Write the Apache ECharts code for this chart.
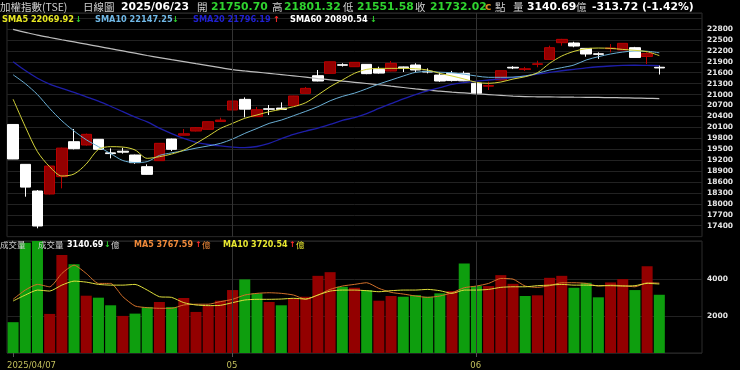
<!DOCTYPE html>
<html><head><meta charset="utf-8">
<script src="https://cdn.jsdelivr.net/npm/echarts@6/dist/echarts.min.js"></script>
<style>html,body{margin:0;padding:0;background:#000;}#c{width:740px;height:370px;}</style>
</head><body><div id="c"></div>
<script>
const dates = ['2025/04/07','2025/04/08','2025/04/09','2025/04/10','2025/04/11','2025/04/14','2025/04/15','2025/04/16','2025/04/17','2025/04/18',
'2025/04/21','2025/04/22','2025/04/23','2025/04/24','2025/04/25','2025/04/28','2025/04/29','2025/04/30',
'2025/05/02','2025/05/05','2025/05/06','2025/05/07','2025/05/08','2025/05/09','2025/05/12','2025/05/13','2025/05/14','2025/05/15','2025/05/16',
'2025/05/19','2025/05/20','2025/05/21','2025/05/22','2025/05/23','2025/05/26','2025/05/27','2025/05/28','2025/05/29',
'2025/06/02','2025/06/03','2025/06/04','2025/06/05','2025/06/06','2025/06/09','2025/06/10','2025/06/11','2025/06/12','2025/06/13',
'2025/06/16','2025/06/17','2025/06/18','2025/06/19','2025/06/20','2025/06/23'];

const openP  = [20180,19085,18353,18271,18747,19707,19616,19772,19400,19445,19341,19021,19186,19780,19885,20000,20046,20260,
20577,20869,20394,20610,20630,20695,21034,21519,21583,21820,21766,21830,21693,21647,21760,21812,21640,21537,21583,21583,
21309,21230,21400,21750,21690,21830,21967,22425,22416,22269,22120,22260,22224,22288,22046,21750.70];
const closeP = [19232,18460,17392,19039,19530,19515,19909,19497,19380,19420,19131,18810,19662,19497,19925,20092,20256,20300,
20824,20600,20585,20598,20590,20961,21171,21373,21900,21805,21885,21575,21590,21857,21735,21675,21620,21373,21385,21378,
21034,21250,21656,21730,21710,21845,22288,22516,22333,22114,22105,22280,22407,22020,22130,21732.02];
const lowP   = [19230,18197,17329,18260,18426,19495,19600,19480,19250,19380,19100,18800,19180,19450,19880,19990,20040,20250,
20570,20375,20390,20439,20580,20690,21030,21365,21580,21770,21760,21560,21575,21640,21620,21610,21583,21350,21360,21370,
20961,21126,21395,21700,21650,21750,21960,22343,22300,22040,21980,22160,22220,22020,21839,21551.58];
const highP  = [20190,19090,18380,19045,19542,20055,19930,19780,19524,19540,19350,19085,19670,19790,20055,20110,20260,20366,
20830,20924,20660,20714,20787,20965,21210,21675,21905,21860,21890,21835,21766,21922,21770,21860,21720,21610,21650,21640,
21315,21354,21660,21780,21760,21930,22343,22530,22450,22275,22160,22388,22410,22310,22160,21801.32];

const volume = [1662,5950,6180,2107,5287,4788,3090,2984,2573,2000,2124,2483,2751,2483,2965,2214,2536,2820,
3394,3968,3217,2751,2573,2949,3035,4161,4359,3571,3518,3394,2820,3073,3035,3126,3035,3217,3340,4826,
3609,3609,4198,3732,3073,3110,4054,4161,3518,3786,3003,3807,3984,3394,4681,3140.69];

const sma5  = [20873,20118,19432,19020,18765,18820,19095,19497,19570,19560,19480,19250,19295,19367,19477,19660,19860,20070,
20210,20350,20440,20530,20595,20668,20778,20990,21216,21400,21584,21693,21720,21720,21720,21710,21675,21584,21510,21427,
21336,21309,21345,21427,21491,21600,21858,22059,22187,22260,22278,22269,22240,22215,22178,22069.92];
const sma10 = [21544,21300,21000,20620,20280,20000,19760,19570,19380,19190,19135,19160,19330,19400,19460,19530,19590,19660,
19780,19935,20070,20210,20300,20420,20540,20670,20830,20950,21040,21160,21290,21400,21510,21610,21635,21615,21600,21560,
21510,21474,21474,21480,21510,21584,21675,21740,21812,21950,22040,22114,22168,22196,22190,22147.25];
const sma20 = [21903,21660,21450,21290,21170,21060,20940,20820,20680,20530,20380,20250,20080,19930,19795,19690,19630,19590,
19560,19545,19575,19660,19790,19910,20000,20080,20180,20290,20370,20480,20620,20750,20880,21000,21100,21190,21280,21330,
21370,21400,21430,21465,21510,21560,21610,21655,21695,21735,21765,21785,21800,21805,21800,21796.19];
const sma60 = [22790,22710,22632,22568,22506,22445,22384,22323,22260,22198,22136,22074,22016,21960,21905,21849,21795,21740,
21685,21650,21616,21582,21548,21514,21480,21440,21405,21372,21338,21305,21270,21232,21195,21155,21120,21094,21068,21045,
21022,21000,20978,20958,20945,20940,20936,20932,20928,20925,20921,20917,20912,20905,20898,20890.54];

const volMa5  = [2895,3394,3700,3571,4290,4735,4290,3753,3753,3035,2536,2445,2410,2410,2590,2630,2630,2770,
2895,3126,3217,3250,3217,3126,2895,3126,3430,3610,3700,3790,3485,3270,3180,3073,3000,3073,3250,3520,
3610,3753,4020,3985,3610,3540,3630,3790,3790,3753,3610,3660,3630,3571,3790,3767.59];
const volMa10 = [2804,3126,3394,3340,3662,3877,3823,3700,3660,3660,3700,3394,3035,3000,2715,2590,2555,2570,
2715,2858,2895,2895,2910,2950,2910,3126,3340,3394,3394,3360,3305,3360,3394,3394,3430,3360,3217,3394,
3394,3430,3540,3571,3571,3630,3660,3700,3660,3660,3630,3630,3610,3630,3753,3720.54];

const xTickLabels = ['2025/04/07','05','06'];
const emptySlots = 3;

const RED = '#930000', RED_LINE = '#b80000', GREEN = '#0e9e0e', WHITE = '#ffffff';
const NUM = '"DejaVu Sans"', CJK = '"Noto Sans CJK TC"';
const N = dates.length;
const SLOTS = N + emptySlots;
const cats = dates.concat(Array.from({length: emptySlots}, (_, k) => '+' + k));

// month-start indices for tick labels
const tickIdx = [0];
for (let i = 1; i < N; i++) if (dates[i].slice(0, 7) !== dates[i - 1].slice(0, 7)) tickIdx.push(i);

const candles = dates.map((d, i) => [openP[i], closeP[i], lowP[i], highP[i]]);
const volData = volume.map((v, i) => {
  const ref = i === 0 ? openP[0] : closeP[i - 1];
  return {value: v, itemStyle: {color: closeP[i] >= ref ? RED : GREEN}};
});

function T(x, y, text, fill, font) {
  return {type: 'text', x: x, y: y, silent: true, z: 100,
    style: {text: text, fill: fill, font: font, verticalAlign: 'middle', align: 'left'}};
}
const gray = '#cfcfcf', green = '#2fd32f', redA = '#ff2a2a';
const hB = 'bold 10.8px ' + NUM, hC = '10.5px ' + CJK;
const sB = 'bold 8.2px ' + NUM;
const vB = 'bold 8px ' + NUM, vC = '8.5px ' + CJK;

const graphics = [
  T(0, 7, '加權指數(TSE)', gray, hC),
  T(83, 7, '日線圖', gray, hC),
  T(121, 7, '2025/06/23', WHITE, hB),
  T(197, 7, '開', gray, hC),
  T(211, 7, '21750.70', green, hB),
  T(272, 7, '高', gray, hC),
  T(284, 7, '21801.32', green, hB),
  T(343, 7, '低', gray, hC),
  T(357, 7, '21551.58', green, hB),
  T(415, 7, '收', gray, hC),
  T(430, 7, '21732.02', green, hB),
  T(485, 7, 'c', '#d88a22', hB),
  T(495, 7, '點', gray, hC),
  T(513, 7, '量', gray, hC),
  T(527, 7, '3140.69', WHITE, hB),
  T(576, 7, '億', gray, hC),
  T(592, 7, '-313.72 (-1.42%)', WHITE, hB),

  T(2, 20, 'SMA5 22069.92', '#e6e622', sB),
  T(75, 20, '↓', green, sB),
  T(95, 20, 'SMA10 22147.25', '#70b8e6', sB),
  T(172, 20, '↓', green, sB),
  T(193, 20, 'SMA20 21796.19', '#2020d0', sB),
  T(273, 20, '↑', redA, sB),
  T(290, 20, 'SMA60 20890.54', WHITE, sB),
  T(370, 20, '↓', green, sB),

  T(0, 245, '成交量', gray, vC),
  T(38, 245, '成交量', gray, vC),
  T(67, 245, '3140.69', WHITE, vB),
  T(104, 245, '↓', green, vB),
  T(111, 245, '億', gray, vC),
  T(134, 245, 'MA5 3767.59', '#f08a3a', vB),
  T(195, 245, '↑', redA, vB),
  T(202, 245, '億', '#f08a3a', vC),
  T(223, 245, 'MA10 3720.54', '#e8e830', vB),
  T(289, 245, '↑', redA, vB),
  T(296, 245, '億', '#e8e830', vC)
];

const gridLine = '#222222';
const monthLines = {
  silent: true, symbol: 'none', label: {show: false},
  lineStyle: {color: '#333333', width: 1, type: 'solid'},
  data: tickIdx.slice(1).map(i => ({xAxis: dates[i]}))
};

const chart = echarts.init(document.getElementById('c'), null, {renderer: 'canvas'});
chart.setOption({
  backgroundColor: '#000000',
  animation: false,
  graphic: graphics,
  grid: [
    {left: 7, right: 38, top: 13, height: 223.65, show: true, borderColor: '#2c2c2c', borderWidth: 1},
    {left: 7, right: 38, top: 241, height: 112.3, show: true, borderColor: '#2c2c2c', borderWidth: 1}
  ],
  xAxis: [
    {type: 'category', gridIndex: 0, data: cats, boundaryGap: true,
      axisLine: {show: false}, axisTick: {show: false}, axisLabel: {show: false}, splitLine: {show: false}},
    {type: 'category', gridIndex: 1, data: cats, boundaryGap: true, position: 'bottom',
      axisLine: {show: false},
      axisTick: {show: true, alignWithLabel: true, length: 4, lineStyle: {color: '#555555'},
        interval: (idx) => tickIdx.indexOf(idx) >= 0},
      axisLabel: {show: false}, splitLine: {show: false}},
    {type: 'value', gridIndex: 1, min: 0, max: SLOTS, position: 'bottom',
      axisLine: {show: false}, axisTick: {show: false}, splitLine: {show: false},
      axisLabel: {show: true, customValues: tickIdx, align: 'left', margin: 8,
        color: '#c2bf5c', fontFamily: 'DejaVu Sans', fontSize: 8.5,
        formatter: v => xTickLabels[tickIdx.indexOf(Math.round(v))] || ''}}
  ],
  yAxis: [
    {type: 'value', gridIndex: 0, position: 'right', min: 17100, max: 23240, interval: 300,
      axisLine: {show: false}, axisTick: {show: false},
      splitLine: {show: true, lineStyle: {color: gridLine, width: 1}},
      axisLabel: {margin: 5, color: '#e6e6e6', fontFamily: 'DejaVu Sans', fontWeight: 'bold', fontSize: 7.5,
        formatter: v => (v >= 17400 && v <= 22800) ? String(v) : ''}},
    {type: 'value', gridIndex: 1, position: 'right', min: 0, max: 6040, interval: 2000,
      axisLine: {show: false}, axisTick: {show: false},
      splitLine: {show: true, lineStyle: {color: gridLine, width: 1}},
      axisLabel: {margin: 5, color: '#e6e6e6', fontFamily: 'DejaVu Sans', fontWeight: 'bold', fontSize: 7.5,
        formatter: v => (v === 2000 || v === 4000) ? String(v) : ''}}
  ],
  series: [
    {type: 'candlestick', xAxisIndex: 0, yAxisIndex: 0, data: candles, barWidth: 11, z: 2,
      itemStyle: {color: RED, color0: WHITE, borderColor: RED_LINE, borderColor0: WHITE, borderWidth: 1},
      markLine: monthLines},
    {type: 'line', name: 'SMA60', xAxisIndex: 0, yAxisIndex: 0, data: sma60, showSymbol: false, smooth: 0.3, z: 3,
      lineStyle: {color: '#bdbdbd', width: 1.2}},
    {type: 'line', name: 'SMA20', xAxisIndex: 0, yAxisIndex: 0, data: sma20, showSymbol: false, smooth: 0.3, z: 3,
      lineStyle: {color: '#1e1ea8', width: 1.3}},
    {type: 'line', name: 'SMA10', xAxisIndex: 0, yAxisIndex: 0, data: sma10, showSymbol: false, smooth: 0.3, z: 3,
      lineStyle: {color: '#6aaed4', width: 1}},
    {type: 'line', name: 'SMA5', xAxisIndex: 0, yAxisIndex: 0, data: sma5, showSymbol: false, smooth: 0.3, z: 3,
      lineStyle: {color: '#d4d43a', width: 1}},
    {type: 'bar', xAxisIndex: 1, yAxisIndex: 1, data: volData, barWidth: 11, z: 2, markLine: monthLines},
    {type: 'line', xAxisIndex: 1, yAxisIndex: 1, data: volMa5, showSymbol: false, smooth: 0.2, z: 3,
      lineStyle: {color: '#d2702a', width: 1}},
    {type: 'line', xAxisIndex: 1, yAxisIndex: 1, data: volMa10, showSymbol: false, smooth: 0.2, z: 3,
      lineStyle: {color: '#dede3c', width: 1}}
  ]
});
</script></body></html>
